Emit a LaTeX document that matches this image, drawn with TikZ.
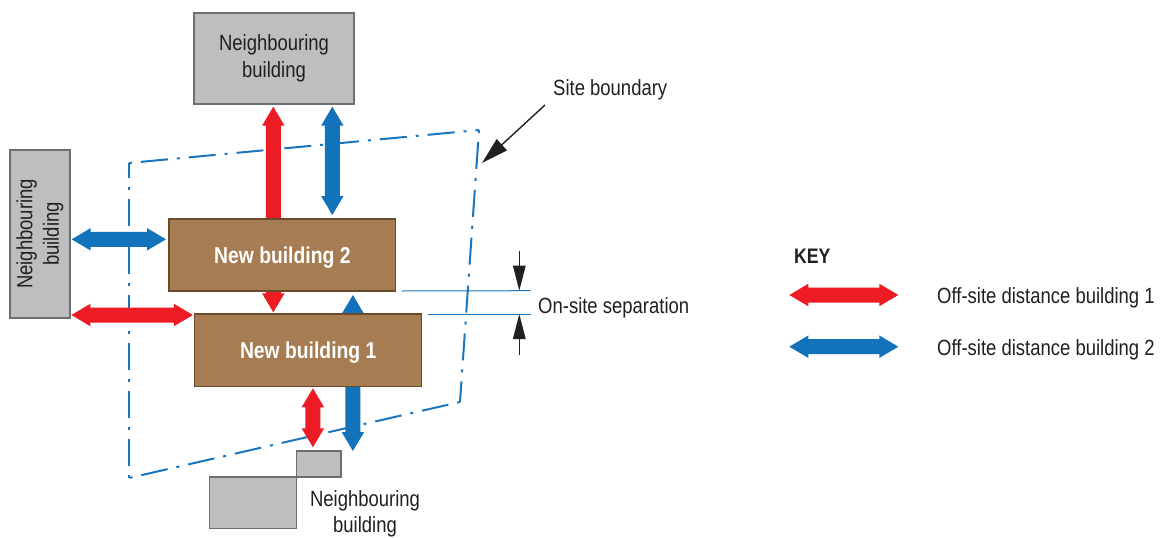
\documentclass[tikz,border=0pt]{standalone}
\usepackage{fontspec}
\setmainfont[FakeStretch=0.84]{Liberation Sans}
\usetikzlibrary{arrows.meta,calc}
\definecolor{arrowred}{HTML}{ED1C24}
\definecolor{arrowblue}{HTML}{1273BB}
\definecolor{lineblue}{HTML}{1A75BC}
\definecolor{nbfill}{HTML}{BCBEC0}
\definecolor{nbdraw}{HTML}{6D6E71}
\definecolor{newfill}{HTML}{A67C52}
\definecolor{newdraw}{HTML}{6B4A2B}
\definecolor{ink}{HTML}{231F20}
\tikzset{
  fatred/.style={fill=arrowred},
  fatblue/.style={fill=arrowblue},
  nbbox/.style={draw=nbdraw,fill=nbfill,line width=1.2pt,inner sep=0pt,outer sep=0pt,align=center,text=ink},
  newbox/.style={draw=newdraw,fill=newfill,line width=1.2pt,inner sep=0pt,outer sep=0pt,
    text=white,font=\fontsize{23}{27}\selectfont\bfseries,text height=16.5pt,text depth=0pt},
  label/.style={text=ink,inner sep=0pt,align=center},
  boundary/.style={draw=lineblue,line width=2pt,dash pattern=on 3pt off 9pt on 27pt off 9pt},
  sepline/.style={draw=lineblue,line width=1pt},
  pointer/.style={draw=ink,line width=1.4pt,-{Triangle[length=27pt,width=15pt]}},
  dimarrow/.style={draw=ink,line width=1.4pt,-{Triangle[length=25pt,width=12.5pt]}},
}
% Broad double-headed arrow: #1 fill style, #2 start, #3 end,
% #4 and #5 the gaps left at the start and at the end.
\newcommand\distarrow[5]{%
  \path ($(#2)!#4!(#3)$) coordinate (fS) ($(#3)!#5!(#2)$) coordinate (fT);
  \fill[#1] (fS)
    -- ($(fS)!19pt!(fT)!11.25pt!90:(fT)$)
    -- ($(fS)!19pt!(fT)!7.5pt!90:(fT)$)
    -- ($(fT)!19pt!(fS)!7.5pt!-90:(fS)$)
    -- ($(fT)!19pt!(fS)!11.25pt!-90:(fS)$)
    -- (fT)
    -- ($(fT)!19pt!(fS)!11.25pt!90:(fS)$)
    -- ($(fT)!19pt!(fS)!7.5pt!90:(fS)$)
    -- ($(fS)!19pt!(fT)!7.5pt!-90:(fT)$)
    -- ($(fS)!19pt!(fT)!11.25pt!-90:(fT)$)
    -- cycle;}
\begin{document}
\begin{tikzpicture}[x=1pt,y=-1pt,every node/.style={font=\fontsize{22}{26.5}\selectfont}]
\useasboundingbox (0,0) rectangle (1168,538);

% site boundary, each edge starting on a dot
\draw[boundary] (129,163) -- (479,130);
\draw[boundary] (479,130) -- (460,402);
\draw[boundary] (460,402) -- (129,478);
\draw[boundary] (129,478) -- (129,163);

% neighbouring buildings
\node[nbbox,minimum width=160pt,minimum height=91pt] (topnb) at (274,58.5) {Neighbouring\\building};
\node[nbbox,minimum width=60pt,minimum height=168pt] (leftnb) at (40,234) {};
\node[label,rotate=90] at (leftnb.center) {Neighbouring\\building};
\node[nbbox,minimum width=44.2pt,minimum height=26pt] (smallnb) at (318.9,464) {};
\node[nbbox,minimum width=87.2pt,minimum height=51.7pt] (largenb) at (253.2,502.85) {};
\node[label] (bottomlabel) at (365,514) {Neighbouring\\building};

% x and y positions of the distance arrows
\coordinate (xRedTop) at (273.3,0);
\coordinate (xBlueTop) at (332.3,0);
\coordinate (xRedLow) at (312.9,0);
\coordinate (xBlueLow) at (352.9,0);
\coordinate (yBlueLeft) at (0,239.3);
\coordinate (yRedLeft) at (0,315);

% off-site distance arrows (drawn before the new buildings, which hide their middle parts)
\node[newbox,minimum width=227.2pt,minimum height=72.3pt] (nb1) at (308.2,350.15) {};
\coordinate (nb2top) at (0,219);
\coordinate (nb2bot) at (0,291);
\coordinate (nb2left) at (169,0);
\distarrow{fatred}{xRedTop |- nb1.north}{xRedTop |- topnb.south}{1.7pt}{2.7pt}
\distarrow{fatblue}{xBlueTop |- nb2top}{xBlueTop |- topnb.south}{4pt}{2.7pt}
\distarrow{fatblue}{leftnb.east |- yBlueLeft}{nb2left |- yBlueLeft}{1.7pt}{3pt}
\distarrow{fatred}{leftnb.east |- yRedLeft}{nb1.west |- yRedLeft}{1.4pt}{1.7pt}
\distarrow{fatblue}{xBlueLow |- nb2bot}{xBlueLow |- smallnb.north}{4pt}{0pt}
\distarrow{fatred}{xRedLow |- nb1.south}{xRedLow |- smallnb.north}{2pt}{3.7pt}

% new buildings
\node[newbox,minimum width=227.2pt,minimum height=72.3pt] at (nb1.center) {New building 1};
\node[newbox,minimum width=226.7pt,minimum height=72pt] (nb2) at (282.35,255) {New building 2};

% site boundary label
\node[label,anchor=base west] (sitelabel) at (553,95) {Site boundary};
\coordinate (siteTip) at (482,163);
\draw[pointer] (545,105) -- (siteTip);

% on-site separation dimension
\coordinate (sepEnd1) at (530.7,290.7);
\coordinate (sepEnd2) at (530.7,314);
\draw[sepline] ([xshift=6pt]nb2.south east) -- (sepEnd1);
\draw[sepline] ([xshift=6.5pt]nb1.north east) -- (sepEnd2);
\coordinate (dimTop) at (519.3,250.7);
\coordinate (dimBot) at (519.3,355);
\draw[dimarrow] (dimTop) -- (dimTop |- sepEnd1);
\draw[dimarrow] (dimBot) -- (dimBot |- sepEnd2);
\node[label,anchor=base west] (seplabel) at (538,313) {On-site separation};

% key
\node[label,anchor=base west,font=\fontsize{21}{25}\selectfont\bfseries] (keytitle) at (794,263) {KEY};
\node[label,anchor=base west] (key1) at (937,303) {Off-site distance building 1};
\node[label,anchor=base west] (key2) at (937,355) {Off-site distance building 2};
\coordinate (k1a) at (789.3,295);
\coordinate (k1b) at (898.3,295);
\coordinate (k2a) at (789.3,346.7);
\coordinate (k2b) at (898.3,346.7);
\distarrow{fatred}{k1a}{k1b}{0pt}{0pt}
\distarrow{fatblue}{k2a}{k2b}{0pt}{0pt}
\end{tikzpicture}
\end{document}
